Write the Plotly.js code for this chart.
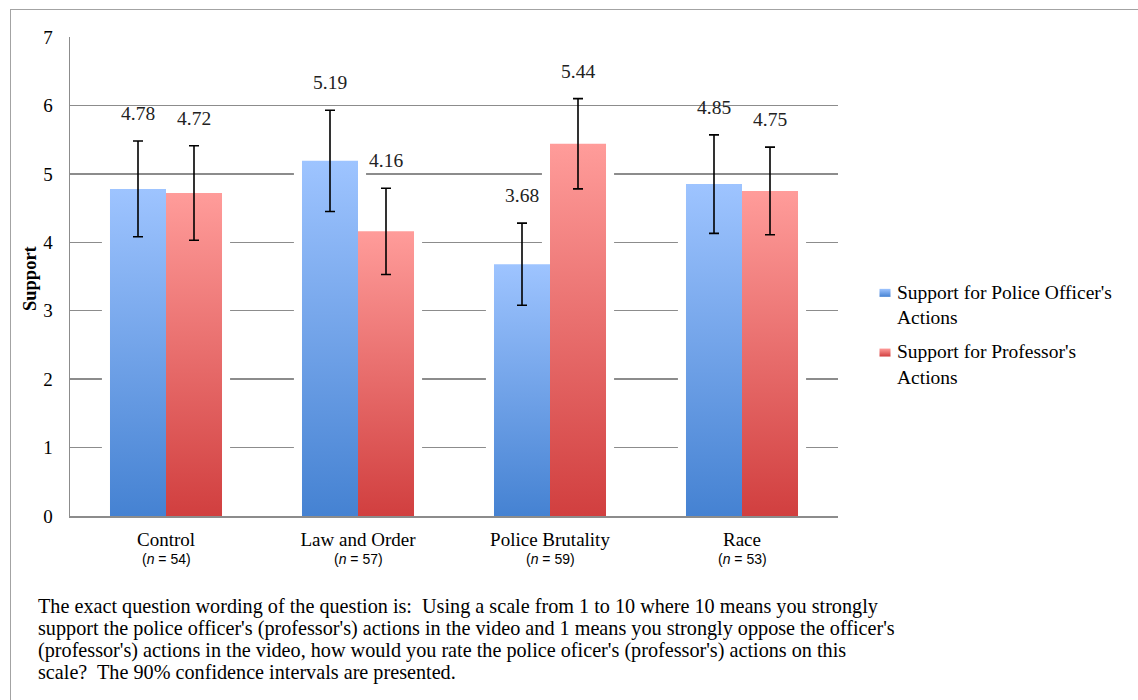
<!DOCTYPE html>
<html>
<head>
<meta charset="utf-8">
<script src="https://cdn.plot.ly/plotly-3.0.1.min.js"></script>
<style>
  html, body { margin: 0; padding: 0; background: #fff; }
  #wrap { position: relative; width: 1138px; height: 700px; overflow: hidden; }
  #frame { position: absolute; left: 10px; top: 9px; width: 1200px; height: 760px;
           border: 1.5px solid #a3a3a3; box-sizing: border-box; pointer-events: none; z-index: 2; }
  #chart { position: absolute; left: 0; top: 0; width: 1138px; height: 700px; }
</style>
</head>
<body>
<div id="wrap">
  <div id="chart"></div>
  <div id="frame"></div>
</div>
<script>
// ---- data ----
const categories = ["Control", "Law and Order", "Police Brutality", "Race"];
const sampleSizes = [54, 57, 59, 53];
const policeSupport = [4.78, 5.19, 3.68, 4.85];
const policeCI = [0.70, 0.74, 0.60, 0.72];
const professorSupport = [4.72, 4.16, 5.44, 4.75];
const professorCI = [0.69, 0.63, 0.66, 0.64];
const yTicks = [0, 1, 2, 3, 4, 5, 6, 7];
const seriesNames = ["Support for Police Officer's<br>Actions", "Support for Professor's<br>Actions"];
const captionLines = [
  "The exact question wording of the question is:  Using a scale from 1 to 10 where 10 means you strongly",
  "support the police officer's (professor's) actions in the video and 1 means you strongly oppose the officer's",
  "(professor's) actions in the video, how would you rate the police oficer's (professor's) actions on this",
  "scale?  The 90% confidence intervals are presented."
];

// ---- geometry ----
const barW = 0.2917;
const haloPad = 0.042;
const haloTop = 0.12;
const serif = "Liberation Serif, Times New Roman, serif";
const sansNarrow = "Liberation Sans Narrow, Liberation Sans, Arial Narrow, sans-serif";
const plotTop = 37, plotBottom = 516, plotLeft = 70, plotWidth = 768;
const pyToPaper = py => (plotBottom - py) / (plotBottom - plotTop);

const halo = (vals, off) => ({
  type: "bar", x: categories, y: vals.map(v => v + haloTop),
  width: barW + 2 * haloPad, offset: off - haloPad,
  marker: { color: "#ffffff", line: { width: 0 } },
  hoverinfo: "skip", showlegend: false
});

const traces = [
  halo(policeSupport, -barW),
  halo(professorSupport, 0),
  {
    type: "bar", name: seriesNames[0], x: categories, y: policeSupport,
    width: barW, offset: -barW, legendgroup: "a",
    marker: { color: "#6fa2e8", line: { width: 0 } },
    error_y: { type: "data", array: policeCI, visible: true, color: "#000000", thickness: 1.6, width: 5 }
  },
  {
    type: "bar", name: seriesNames[1], x: categories, y: professorSupport,
    width: barW, offset: 0, legendgroup: "b",
    marker: { color: "#e86c6a", line: { width: 0 } },
    error_y: { type: "data", array: professorCI, visible: true, color: "#000000", thickness: 1.6, width: 5 }
  }
];

const annotations = [];
categories.forEach((c, i) => {
  annotations.push({
    x: i - barW / 2, xref: "x", y: policeSupport[i] + policeCI[i], yref: "y",
    text: policeSupport[i].toFixed(2), showarrow: false, yanchor: "bottom", yshift: 15,
    font: { family: serif, size: 19.5, color: "#222" }
  });
  annotations.push({
    x: i + barW / 2, xref: "x", y: professorSupport[i] + professorCI[i], yref: "y",
    text: professorSupport[i].toFixed(2), showarrow: false, yanchor: "bottom", yshift: 15,
    font: { family: serif, size: 19.5, color: "#222" }
  });
  // sample-size sub-label under each category
  annotations.push({
    x: c, xref: "x", y: pyToPaper(559), yref: "paper", yanchor: "middle",
    text: "(<i>n</i> = " + sampleSizes[i] + ")", showarrow: false,
    font: { family: sansNarrow, size: 14, color: "#000" }
  });
});
annotations.push({
  xref: "paper", yref: "paper", x: (30 - plotLeft) / plotWidth, y: pyToPaper(278), textangle: -90,
  text: "<b>Support</b>", showarrow: false, xanchor: "center", yanchor: "middle",
  font: { family: serif, size: 18.5, color: "#000" }
});
const captionY = [606, 628, 650, 672];
captionLines.forEach((line, k) => {
  annotations.push({
    xref: "paper", yref: "paper", x: (36 - plotLeft) / plotWidth, y: pyToPaper(captionY[k]),
    xanchor: "left", yanchor: "middle", align: "left",
    text: line, showarrow: false,
    font: { family: serif, size: 20.2, color: "#000" }
  });
});

const layout = {
  width: 1138, height: 700,
  margin: { l: 70, r: 300, t: 37, b: 184 },
  paper_bgcolor: "#ffffff", plot_bgcolor: "#ffffff",
  barmode: "overlay",
  showlegend: true,
  legend: {
    x: (857 - plotLeft) / plotWidth, y: pyToPaper(272), xanchor: "left", yanchor: "top",
    font: { family: serif, size: 19.5, color: "#000" },
    itemwidth: 30, tracegroupgap: 6,
    bgcolor: "rgba(0,0,0,0)"
  },
  xaxis: {
    type: "category", range: [-0.5, 3.5],
    tickvals: categories, ticktext: categories,
    showgrid: false, showline: true, linecolor: "#8c8c8c", linewidth: 1.5,
    ticks: "", ticklabelstandoff: 6,
    tickfont: { family: serif, size: 19, color: "#000" },
    fixedrange: true
  },
  yaxis: {
    range: [0, 7], tickvals: yTicks, ticktext: yTicks.map(String),
    showgrid: true, gridcolor: "#8c8c8c", gridwidth: 1.4,
    zeroline: false, showline: true, linecolor: "#8c8c8c", linewidth: 1.5,
    ticks: "", ticklabelstandoff: 12,
    tickfont: { family: serif, size: 19, color: "#000" },
    fixedrange: true
  },
  annotations: annotations
};

Plotly.newPlot("chart", traces, layout, { displayModeBar: false, staticPlot: true }).then(gd => {
  const svg = gd.querySelector(".main-svg");
  const ns = "http://www.w3.org/2000/svg";
  let defs = svg.querySelector("defs");
  if (!defs) { defs = document.createElementNS(ns, "defs"); svg.insertBefore(defs, svg.firstChild); }
  const mk = (id, top, bottom) => {
    const g = document.createElementNS(ns, "linearGradient");
    g.setAttribute("id", id);
    g.setAttribute("x1", "0"); g.setAttribute("y1", "0");
    g.setAttribute("x2", "0"); g.setAttribute("y2", "1");
    [[0, top], [1, bottom]].forEach(([o, c]) => {
      const s = document.createElementNS(ns, "stop");
      s.setAttribute("offset", String(o)); s.setAttribute("stop-color", c);
      g.appendChild(s);
    });
    defs.appendChild(g);
  };
  mk("gradBlue", "#9ec4ff", "#4582d2");
  mk("gradRed", "#ff9c9a", "#d13f3f");
  const barTraces = gd.querySelectorAll(".barlayer .trace.bars");
  const apply = (el, id) => el.querySelectorAll("path").forEach(p => { p.style.fill = "url(#" + id + ")"; });
  if (barTraces[2]) apply(barTraces[2], "gradBlue");
  if (barTraces[3]) apply(barTraces[3], "gradRed");
  const legendPts = gd.querySelectorAll(".legend .traces .legendpoints");
  const ids = ["gradBlue", "gradRed"];
  legendPts.forEach((lp, k) => {
    apply(lp, ids[k]);
    lp.querySelectorAll("path").forEach(p => { p.setAttribute("d", "M5.5,4H-5.5V-4H5.5Z"); });
    const prev = lp.getAttribute("transform") || "";
    lp.setAttribute("transform", prev + " translate(8,-11)");
  });
});
</script>
</body>
</html>
